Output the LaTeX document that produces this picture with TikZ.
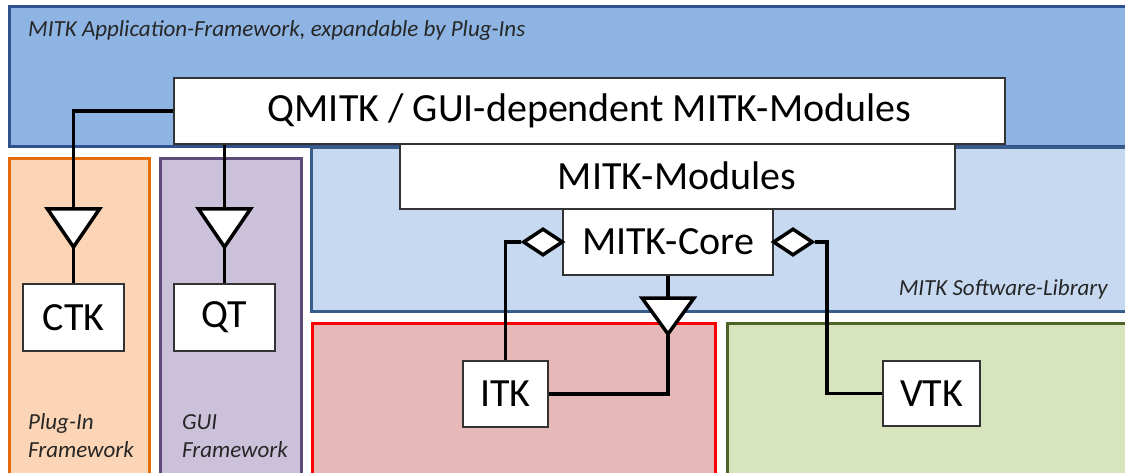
\documentclass[tikz,border=0pt]{standalone}
\usepackage{fontspec}
\setmainfont{Carlito}
\usetikzlibrary{shapes.geometric}
\definecolor{appfill}{HTML}{8EB4E3}
\definecolor{appdraw}{HTML}{2F528F}
\definecolor{libfill}{HTML}{C6D9F1}
\definecolor{libdraw}{HTML}{385D8A}
\definecolor{orfill}{HTML}{FBD5B5}
\definecolor{ordraw}{HTML}{E46C0A}
\definecolor{pufill}{HTML}{CCC1DA}
\definecolor{pudraw}{HTML}{604A7B}
\definecolor{rdfill}{HTML}{E6B9B8}
\definecolor{rddraw}{HTML}{FF0000}
\definecolor{grfill}{HTML}{D7E4BD}
\definecolor{grdraw}{HTML}{4F6228}
\tikzset{
  frame/.style={line width=3pt},
  modbox/.style={draw=black!80, fill=white, line width=2pt, inner sep=0pt, font=\fontsize{40}{44}\selectfont},
  conn/.style={line width=3.5pt, line join=miter},
  tri/.style={line width=3.5pt, fill=white, line join=miter},
  dia/.style={diamond, draw, fill=white, line width=3.5pt, inner sep=0pt, minimum width=40pt, minimum height=27pt},
  lbl/.style={font=\fontsize{23}{28}\selectfont\itshape, text=black!85, inner sep=0pt},
}
\begin{document}
\begin{tikzpicture}[x=1pt,y=-1pt]
\useasboundingbox (0,0) rectangle (1125,473);
\begin{scope}
\clip (0,0) rectangle (1125,473);
\draw[frame, draw=appdraw, fill=appfill] (9,7) rectangle (1135,147);
\draw[frame, draw=libdraw, fill=libfill] (311,148) rectangle (1135,311);
\draw[frame, draw=ordraw, fill=orfill] (9,159) rectangle (149,490);
\draw[frame, draw=pudraw, fill=pufill] (160,159) rectangle (301,490);
\draw[frame, draw=rddraw, fill=rdfill] (312,323) rectangle (715,490);
\draw[frame, draw=grdraw, fill=grfill] (727,323) rectangle (1135,490);
\end{scope}
\node[lbl, anchor=west] (applbl) at (28,30) {MITK Application-Framework, expandable by Plug-Ins};
\node[lbl, anchor=east] (liblbl) at (1108,289) {MITK Software-Library};
\node[lbl, anchor=west, align=left] (pilbl) at (28,436) {Plug-In\\Framework};
\node[lbl, anchor=west, align=left] (guilbl) at (182,436) {GUI\\Framework};
% module boxes
\node[modbox, minimum width=555pt, minimum height=66pt] (mod) at (677,176) {MITK-Modules};
\node[modbox, minimum width=831pt, minimum height=66pt] (qmitk) at (589.5,111) {QMITK / GUI-dependent MITK-Modules};
\node[modbox, minimum width=210pt, minimum height=66pt] (core) at (668,242) {MITK-Core};
\node[modbox, minimum width=101pt, minimum height=67pt] (ctk) at (73.5,317.5) {CTK};
\node[modbox, minimum width=101pt, minimum height=67pt] (qt) at (224.5,317.5) {QT};
\node[modbox, minimum width=85pt, minimum height=66pt] (itk) at (505.5,394) {ITK};
\node[modbox, minimum width=97pt, minimum height=65pt] (vtk) at (931.5,393.5) {VTK};
% triangle coordinates
\coordinate (t1top) at (73.5,209);
\coordinate (t1tip) at (73.5,247);
\coordinate (t2top) at (224.5,209);
\coordinate (t2tip) at (224.5,247);
\coordinate (t3top) at (668,298);
\coordinate (t3tip) at (668,334);
\coordinate (vbend) at (827,242);
\node[dia] (d1) at (543,242) {};
\node[dia] (d2) at (793,242) {};
% connectors
\draw[conn] (qmitk.west) -| (t1top);
\draw[conn] (t1tip) -- (ctk.north);
\draw[conn] (qmitk.south -| t2top) -- (t2top);
\draw[conn] (t2tip) -- (qt.north);
\draw[conn] (core.south) -- (t3top);
\draw[conn] (t3tip) |- (itk.east);
\draw[conn] (d1.west) -| (itk.north);
\draw[conn] (d2.east) -- (vbend) |- (vtk.west);
\draw[tri] ([xshift=-26pt]t1top) -- ([xshift=26pt]t1top) -- (t1tip) -- cycle;
\draw[tri] ([xshift=-26pt]t2top) -- ([xshift=26pt]t2top) -- (t2tip) -- cycle;
\draw[tri] ([xshift=-26pt]t3top) -- ([xshift=26pt]t3top) -- (t3tip) -- cycle;
\end{tikzpicture}
\end{document}
